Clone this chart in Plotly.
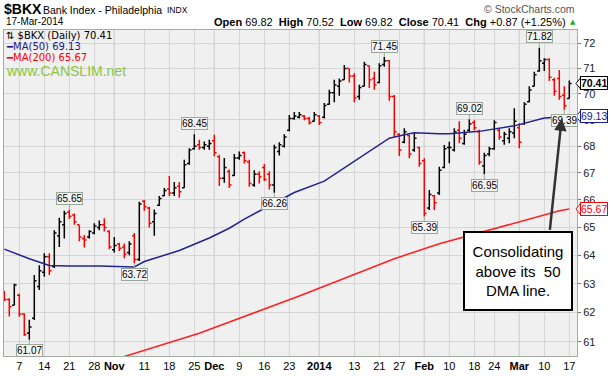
import numpy as np
import pandas as pd
import plotly.graph_objects as go

# ---------------- data ----------------
holidays = ['2013-11-28', '2013-12-25', '2014-01-01', '2014-01-20', '2014-02-17']
dates = [d.strftime('%Y-%m-%d') for d in
         pd.bdate_range('2013-10-02', '2014-03-17', freq='C', holidays=holidays)]

opens = [62.70, 62.45, 62.25, 62.60, 61.95, 61.30, 61.80, 62.90, 63.40, 63.95,
         63.60, 64.70, 65.10, 65.55, 65.45, 65.10, 64.60, 64.65, 64.80, 65.00,
         65.10, 64.85, 64.20, 64.40, 64.30, 64.10, 64.70, 63.85, 65.95, 65.70,
         65.20, 65.80, 66.15, 66.40, 66.25, 66.50, 66.45, 67.35, 67.90, 68.05,
         67.95, 68.00, 68.20, 67.60, 66.80, 67.05, 66.90, 67.55, 67.75, 67.40,
         66.55, 66.95, 67.20, 66.95, 66.55, 67.80, 68.00, 68.60, 69.05, 69.10,
         69.15, 69.05, 68.95, 69.15, 69.10, 69.60, 70.05, 70.30, 70.55, 71.00,
         70.70, 69.90, 70.30, 71.10, 70.60, 70.45, 71.15, 71.30, 69.90, 68.45,
         68.15, 68.40, 67.85, 67.95, 67.45, 65.70, 66.15, 66.25, 67.20, 67.95,
         67.85, 68.60, 68.10, 68.60, 68.90, 68.55, 67.25, 67.70, 67.90, 68.60,
         68.20, 68.30, 68.50, 68.70, 68.85, 69.70, 70.30, 70.90, 71.20, 71.35,
         70.55, 70.60, 69.95, 69.82]
highs = [62.75, 62.49, 63.00, 62.65, 61.97, 61.75, 63.30, 63.65, 64.07, 64.07,
         64.90, 65.35, 65.60, 65.65, 65.50, 65.10, 64.73, 64.90, 65.15, 65.25,
         65.33, 64.90, 64.65, 64.45, 64.42, 64.50, 64.80, 65.93, 66.00, 65.75,
         65.65, 66.14, 66.44, 66.88, 66.66, 66.66, 67.49, 67.92, 68.45, 68.24,
         68.18, 68.24, 68.43, 67.68, 67.55, 67.12, 67.70, 67.80, 67.80, 67.49,
         67.10, 67.06, 67.33, 67.06, 68.05, 68.15, 68.45, 69.19, 69.30, 69.30,
         69.19, 69.12, 69.30, 69.19, 69.65, 70.16, 70.55, 70.60, 71.13, 71.00,
         70.81, 70.36, 71.26, 71.10, 70.87, 71.20, 71.45, 71.33, 69.96, 68.49,
         68.68, 68.42, 68.49, 67.98, 67.54, 66.36, 66.18, 67.23, 68.04, 68.17,
         68.68, 68.95, 68.62, 69.02, 68.98, 68.62, 67.75, 67.98, 68.98, 68.68,
         68.55, 68.68, 69.45, 68.87, 69.68, 70.30, 70.87, 71.82, 71.40, 71.40,
         70.63, 70.94, 70.30, 70.52]
lows = [62.40, 61.86, 62.25, 61.85, 61.20, 61.07, 61.74, 62.78, 63.24, 63.30,
        63.55, 64.30, 64.60, 65.30, 65.10, 64.50, 64.28, 64.60, 64.75, 64.90,
        64.85, 64.22, 64.10, 64.15, 63.90, 64.00, 63.72, 63.80, 65.60, 65.00,
        64.70, 65.78, 66.14, 66.14, 66.14, 66.08, 66.45, 67.30, 67.86, 67.86,
        67.86, 67.86, 67.62, 66.51, 66.63, 66.44, 66.88, 67.49, 67.35, 66.48,
        66.48, 66.60, 66.70, 66.38, 66.26, 67.65, 67.95, 68.56, 69.00, 69.05,
        68.98, 68.82, 68.95, 68.80, 69.05, 69.58, 69.68, 69.93, 70.55, 70.45,
        69.68, 69.77, 70.30, 70.23, 70.16, 70.42, 71.06, 69.74, 68.36, 67.63,
        68.11, 67.54, 67.79, 67.23, 65.39, 65.63, 65.63, 66.18, 67.17, 67.36,
        67.80, 68.11, 68.05, 68.55, 68.60, 67.30, 66.95, 67.62, 67.86, 68.24,
        68.05, 68.11, 68.30, 67.92, 68.81, 69.68, 70.30, 70.87, 70.90, 70.50,
        69.93, 69.77, 69.39, 69.82]
closes = [62.45, 62.20, 62.95, 61.95, 61.25, 61.50, 63.10, 63.45, 63.95, 63.45,
          64.80, 65.20, 65.50, 65.40, 65.20, 64.65, 64.55, 64.85, 65.05, 65.10,
          65.00, 64.30, 64.35, 64.25, 64.05, 64.40, 63.85, 65.85, 65.75, 65.15,
          65.50, 66.05, 66.35, 66.25, 66.45, 66.30, 67.30, 67.85, 68.00, 67.95,
          68.05, 68.10, 67.75, 66.80, 67.20, 66.55, 67.55, 67.65, 67.45, 66.60,
          66.95, 66.85, 66.75, 66.55, 67.95, 68.05, 68.35, 69.05, 69.15, 69.20,
          69.05, 68.90, 69.20, 68.90, 69.55, 70.05, 70.35, 70.50, 71.00, 70.70,
          69.85, 70.25, 71.15, 70.55, 70.35, 71.10, 71.30, 69.90, 68.55, 67.85,
          68.55, 67.70, 68.30, 67.35, 65.50, 66.20, 65.90, 67.10, 67.90, 67.95,
          68.55, 68.30, 68.45, 68.85, 68.70, 67.40, 67.65, 67.90, 68.90, 68.35,
          68.45, 68.55, 68.95, 68.15, 69.60, 70.15, 70.75, 71.30, 71.35, 70.65,
          70.10, 69.90, 69.54, 70.41]

ma50_dates = ['2013-10-02', '2013-10-09', '2013-10-15', '2013-10-21', '2013-10-29',
              '2013-11-04', '2013-11-07', '2013-11-11', '2013-11-20', '2013-11-29',
              '2013-12-05', '2013-12-10', '2013-12-19', '2013-12-24', '2014-01-03',
              '2014-01-13', '2014-01-21', '2014-01-23', '2014-01-28', '2014-01-30',
              '2014-02-06', '2014-02-10', '2014-02-19', '2014-02-28', '2014-03-10',
              '2014-03-17']
ma50_vals = [64.22, 63.88, 63.64, 63.62, 63.62, 63.60, 63.59, 63.78, 64.17, 64.62,
             64.97, 65.30, 65.99, 66.27, 66.69, 67.43, 68.05, 68.30, 68.43, 68.51,
             68.47, 68.47, 68.56, 68.77, 69.07, 69.13]

ma200_dates = ['2013-11-04', '2013-11-26', '2013-12-26', '2014-01-24', '2014-02-06',
               '2014-02-25', '2014-03-13', '2014-03-17']
ma200_vals = [60.45, 61.29, 62.57, 63.88, 64.41, 65.01, 65.60, 65.67]

tick_dates = ['2013-10-07', '2013-10-14', '2013-10-21', '2013-10-28', '2013-11-01',
              '2013-11-11', '2013-11-18', '2013-11-25', '2013-12-02', '2013-12-09',
              '2013-12-16', '2013-12-23', '2014-01-02', '2014-01-13', '2014-01-21',
              '2014-01-27', '2014-02-03', '2014-02-10', '2014-02-18', '2014-02-24',
              '2014-03-03', '2014-03-10', '2014-03-17']
tick_labels = ['7', '14', '21', '28', '<b>Nov</b>', '11', '18', '25', '<b>Dec</b>', '9',
               '16', '23', '<b>2014</b>', '13', '21', '27', '<b>Feb</b>', '10', '18', '24',
               '<b>Mar</b>', '10', '17']
month_dates = ['2013-11-01', '2013-12-02', '2014-01-02', '2014-02-03', '2014-03-03']

price_ticks = [61, 62, 63, 64, 65, 66, 67, 68, 69, 70, 71, 72]

label_dates = ['2013-10-09', '2013-10-21', '2013-11-07', '2013-11-25', '2013-12-18',
               '2014-01-22', '2014-02-03', '2014-02-14', '2014-02-20', '2014-03-07',
               '2014-03-14']
label_values = [61.07, 65.65, 63.72, 68.45, 66.26, 71.45, 65.39, 69.02, 66.95, 71.82, 69.39]
label_above = [False, True, False, True, False, True, False, True, False, True, False]

last_close, ma50_last, ma200_last = 70.41, 69.13, 65.67

# ---------------- figure ----------------
W, H = 613, 376
L, R, T, B = 4, 36, 30, 20
PL, PR, PT, PB = L, W - R, T, H - B
ylo, yhi = np.log10(60.52), np.log10(72.53)


def pxx(x):
    return (x - PL) / (PR - PL)


def pyy(y):
    return (PB - y) / (PB - PT)


def yval_paper(v):
    return (np.log10(v) - ylo) / (yhi - ylo)


up = [False] + [closes[k] > closes[k - 1] for k in range(1, len(closes))]

fig = go.Figure()
for flag, col in [(True, '#000000'), (False, '#ff0000')]:
    idx = [k for k in range(len(dates)) if up[k] == flag]
    fig.add_trace(go.Ohlc(
        x=[dates[k] for k in idx],
        open=[opens[k] for k in idx], high=[highs[k] for k in idx],
        low=[lows[k] for k in idx], close=[closes[k] for k in idx],
        increasing=dict(line=dict(color=col, width=1.5)),
        decreasing=dict(line=dict(color=col, width=1.5)),
        tickwidth=0.45, hoverinfo='skip', showlegend=False))

fig.add_trace(go.Scatter(x=ma50_dates, y=ma50_vals, mode='lines',
                         line=dict(color='#232391', width=1.5), hoverinfo='skip',
                         showlegend=False))
fig.add_trace(go.Scatter(x=ma200_dates, y=ma200_vals, mode='lines',
                         line=dict(color='#ff2020', width=1.5), hoverinfo='skip',
                         showlegend=False))

shapes = []
for d in month_dates:
    shapes.append(dict(type='line', xref='x', yref='paper', x0=d, x1=d, y0=0, y1=1,
                       line=dict(color='#b4b4b4', width=1), layer='between'))

annotations = []
F = 'Liberation Sans, Arial'
# price labels on highs / lows
for d, v, ab in zip(label_dates, label_values, label_above):
    annotations.append(dict(
        x=d, y=np.log10(v), xref='x', yref='y', text=f'{v:.2f}',
        showarrow=True, arrowhead=0, arrowwidth=1, arrowcolor='#9aa89a',
        ax=0, ay=-11 if ab else 11, standoff=0,
        font=dict(family=F, size=10, color='#000'),
        bgcolor='#f4f4f4', bordercolor='#9aa89a', borderwidth=1, borderpad=0))

# right axis value tags
for v, col, bold in [(last_close, '#000000', True), (ma50_last, '#1a1a8a', False),
                     (ma200_last, '#ff0000', False)]:
    txt = f'<b>{v:.2f}</b>' if bold else f'{v:.2f}'
    annotations.append(dict(
        x=pxx(580), y=yval_paper(v), xref='paper', yref='paper', xanchor='left',
        yanchor='middle', text=txt, showarrow=False,
        font=dict(family=F, size=10.5, color='#000' if bold else col),
        bgcolor='#ffffff', bordercolor=col, borderwidth=1, borderpad=0))
    shapes.append(dict(type='path', xref='paper', yref='paper',
                       path=f'M {pxx(580.5)} {yval_paper(v) + 0.017} L {pxx(576)} {yval_paper(v)} '
                            f'L {pxx(580.5)} {yval_paper(v) - 0.017} Z',
                       fillcolor='#ffffff', line=dict(color=col, width=1)))

# header
annotations += [
    dict(x=pxx(2), y=pyy(9), text='<b>$BKX</b>', font=dict(family=F, size=14, color='#000')),
    dict(x=pxx(41), y=pyy(9.5), text='Bank Index - Philadelphia',
         font=dict(family=F, size=10.5, color='#000')),
    dict(x=pxx(165), y=pyy(10), text='INDX', font=dict(family=F, size=8.5, color='#000')),
    dict(x=pxx(4), y=pyy(22), text='17-Mar-2014', font=dict(family=F, size=10, color='#000')),
    dict(x=pxx(4), y=pyy(35), text='⇅ $BKX (Daily) 70.41',
         font=dict(family='DejaVu Sans', size=10, color='#000')),
    dict(x=pxx(4), y=pyy(46.5), text='━MA(50) 69.13',
         font=dict(family='DejaVu Sans', size=10, color='#1a1a8a')),
    dict(x=pxx(4), y=pyy(57.5), text='━MA(200) 65.67',
         font=dict(family='DejaVu Sans', size=10, color='#ff0000')),
    dict(x=pxx(4), y=pyy(71), text='www.CANSLIM.net',
         font=dict(family=F, size=14, color='#8cc63c')),
]
for a in annotations[-8:]:
    a.update(xref='paper', yref='paper', xanchor='left', yanchor='middle', showarrow=False)

annotations += [
    dict(x=pxx(568), y=pyy(22), xref='paper', yref='paper', xanchor='right', yanchor='middle',
         showarrow=False, font=dict(family=F, size=11, color='#000'),
         text='<b>Open</b> 69.82  <b>High</b> 70.52  <b>Low</b> 69.82  <b>Close</b> 70.41  '
              '<b>Chg</b> +0.87 (+1.25%)'),
    dict(x=pxx(573), y=pyy(22), xref='paper', yref='paper', xanchor='center', yanchor='middle',
         showarrow=False, text='▲', font=dict(family='DejaVu Sans', size=7, color='#22aa22')),
    dict(x=pxx(577), y=pyy(9), xref='paper', yref='paper', xanchor='right', yanchor='middle',
         showarrow=False, text='© StockCharts.com', font=dict(family=F, size=10.5, color='#555')),
    # callout box
    dict(x=pxx(517.5), y=pyy(270.5), xref='paper', yref='paper', xanchor='center',
         yanchor='middle', showarrow=False, width=104, height=74,
         text='Consolidating<br>above its \u00a050<br>DMA line.', align='center',
         font=dict(family=F, size=15, color='#000'), bgcolor='#ffffff',
         bordercolor='#000000', borderwidth=2, borderpad=1),
    # arrow
    dict(x=pxx(561.7), y=pyy(118.3), xref='paper', yref='paper', text='', showarrow=True,
         ax=-12, ay=113, arrowhead=2, arrowsize=1, arrowwidth=2.5, arrowcolor='#333333'),
]

fig.update_layout(
    width=W, height=H, margin=dict(l=L, r=R, t=T, b=B, pad=0),
    paper_bgcolor='#ffffff', plot_bgcolor='#f0f0f0',
    shapes=shapes, annotations=annotations, hovermode=False,
    xaxis=dict(type='category', categoryorder='array', categoryarray=dates,
               range=[-0.06, len(dates) + 0.54], tickmode='array', tickvals=tick_dates,
               ticktext=tick_labels, showgrid=True, gridcolor='#d6d6d6', gridwidth=1,
               ticks='', ticklen=0, tickfont=dict(family=F, size=11, color='#000'),
               showline=True, linecolor='#a0ada0', mirror=True, rangeslider=dict(visible=False),
               fixedrange=True, automargin=False),
    yaxis=dict(type='log', range=[ylo, yhi], side='right', tickmode='array',
               tickvals=price_ticks, ticktext=[str(t) for t in price_ticks],
               showgrid=True, gridcolor='#d6d6d6', gridwidth=1, ticks='outside', ticklen=3,
               tickcolor='#777', tickfont=dict(family=F, size=11, color='#222'),
               showline=True, linecolor='#a0ada0', mirror=True, fixedrange=True,
               automargin=False),
)

fig.write_html('out.html', config={'displayModeBar': False},
               post_script="document.body.style.margin='0';document.body.style.overflow='hidden';")
